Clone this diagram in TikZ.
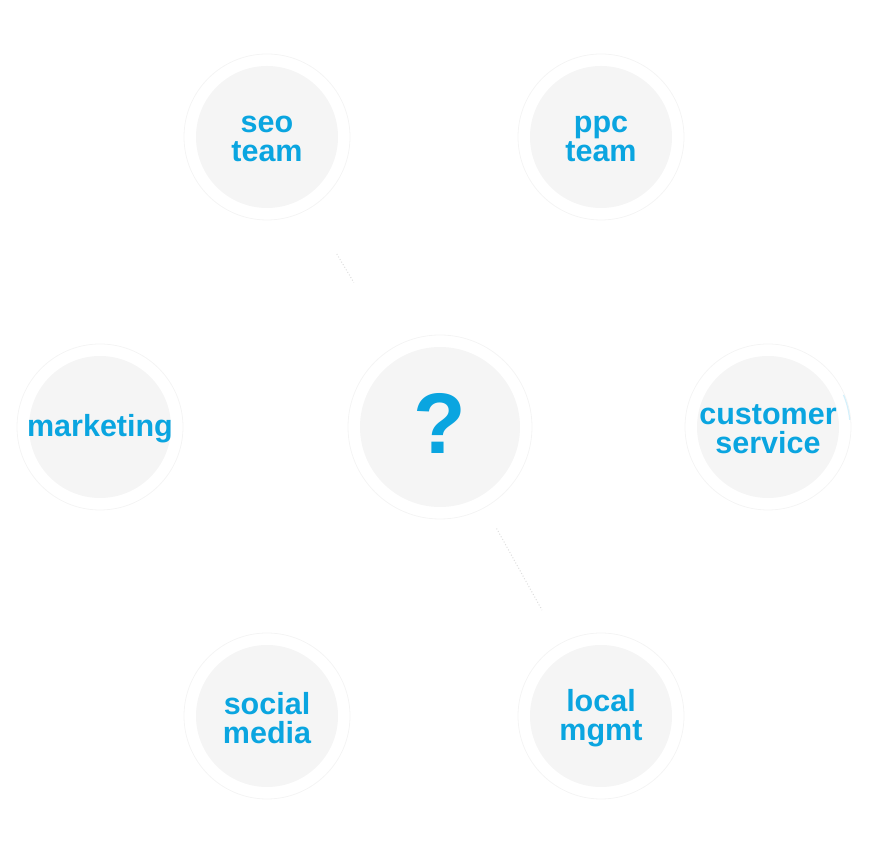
\documentclass[tikz,border=0pt]{standalone}
\usepackage{fontspec}
\setmainfont{Liberation Sans}
\usetikzlibrary{positioning,calc}
\definecolor{sky}{HTML}{0AA5E0}
\definecolor{cloud}{HTML}{F5F5F5}
\definecolor{halo}{HTML}{F4F4F4}
\definecolor{dots}{HTML}{DEDEDE}
\definecolor{glint}{HTML}{D4F0FB}

\begin{document}
\begin{tikzpicture}[x=1pt,y=1pt,
   t/.style={circle,fill=cloud,minimum size=142pt,inner sep=0pt},
   q/.style={circle,fill=cloud,minimum size=160pt,inner sep=0pt},
   lbl/.style={text=sky,align=center,inner sep=0pt,yshift=-2pt,
               font=\fontsize{30.5}{28.5}\selectfont\bfseries},
   ring/.style={draw=halo,line width=0.8pt},
   link/.style={draw=dots,line width=1pt,dotted}]
  \useasboundingbox (0,0) rectangle (870,853);
  \node[q,label={[lbl,font=\fontsize{86}{86}\selectfont\bfseries,yshift=6pt]center:?}] (hub) at (440,426) {};
  \node[t,label={[lbl]center:seo\\team}] (seo) at (267,716) {};
  \node[t,label={[lbl]center:ppc\\team}] (ppc) at (601,716) {};
  \node[t,label={[lbl]center:marketing}] (mkt) at (100,426) {};
  \node[t,label={[lbl]center:customer\\service}] (cus) at (768,426) {};
  \node[t,label={[lbl]center:social\\media}] (soc) at (267,137) {};
  \node[t,label={[lbl]center:local\\mgmt}] (loc) at (601,137) {};
  \draw[ring] (hub.center) circle (92);
  \foreach \n in {seo,ppc,mkt,cus,soc,loc}
    \draw[ring] (\n.center) circle (83);
  \draw[glint,line width=1.2pt] ($(cus.center)+(5:82)$) arc (5:23:82);
  \draw[link,shorten <=65pt,shorten >=88pt] (seo) -- (hub);
  \draw[link,shorten <=36pt,shorten >=50pt] (hub) -- (loc);
\end{tikzpicture}
\end{document}
